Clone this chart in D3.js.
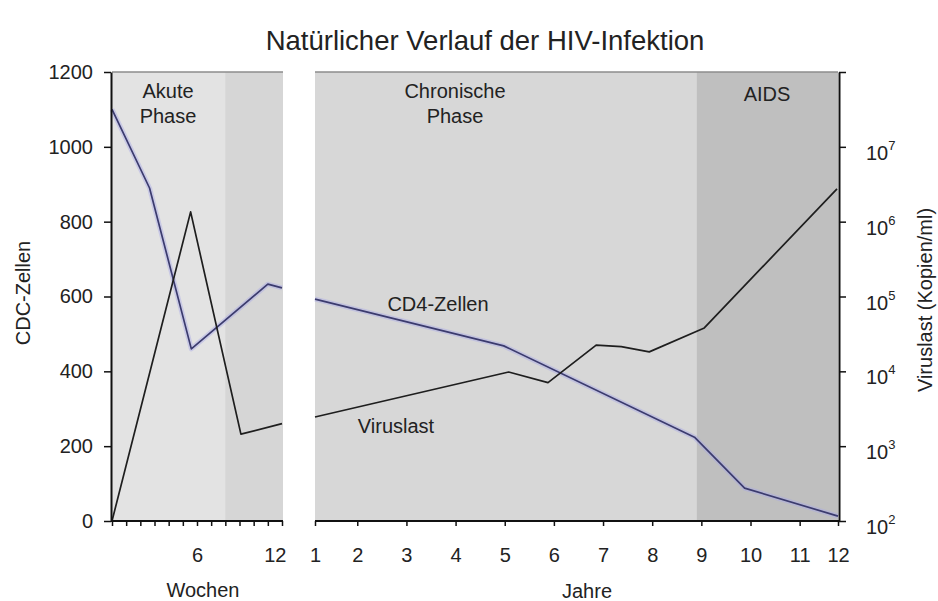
<!DOCTYPE html>
<html><head><meta charset="utf-8">
<script src="https://cdn.jsdelivr.net/npm/d3@7"></script>
<style>
body{margin:0;background:#fff;}
svg text{font-family:"Liberation Sans",Arial,sans-serif;fill:#222;}
</style></head>
<body><svg id="c" width="938" height="601"></svg>
<script>
// ---- data ----
const title = "Natürlicher Verlauf der HIV-Infektion";
const weekTicks = [0,1,2,3,4,5,6,7,8,9,10,11,12];
const weekLabels = [6,12];
const yearTicks = [1,2,3,4,5,6,7,8,9,10,11,12];
const cd4Ticks = [0,200,400,600,800,1000,1200];
const vlTicks = [1e2,1e3,1e4,1e5,1e6,1e7,1e8];
const vlLabelExp = [2,3,4,5,6,7];

// CD4 cells – weeks panel
const cd4WeekX = [0, 2.65, 5.6, 11.0, 12];
const cd4WeekY = [1100, 890, 460, 633, 623];
// viral load (copies/ml) – weeks panel
const vlWeekX = [0, 5.55, 9.1, 12];
const vlWeekY = [100, 1350000, 1450, 2000];
// CD4 cells – years panel
const cd4YearX = [1.14, 4.98, 8.86, 9.88, 11.78];
const cd4YearY = [593, 468, 224, 88, 13];
// viral load – years panel
const vlYearX = [1.14, 5.08, 5.88, 6.86, 7.37, 7.94, 9.06, 11.76];
const vlYearY = [2450, 9800, 7080, 22400, 21400, 18200, 38000, 2750000];

// phases
const phaseWeeks = [{from:0,to:8,fill:"#e3e3e3"},{from:8,to:12,fill:"#d6d6d6"}];
const phaseYears = [{from:1.14,to:8.9,fill:"#d7d7d7"},{from:8.9,to:11.78,fill:"#bfbfbf"}];

// ---- scales ----
const svg = d3.select("#c");
const yL = d3.scaleLinear().domain([0,1200]).range([521,72]);
const yR = d3.scaleLog().domain([1e2,1e8]).range([521,72]);
const xW = d3.scaleLinear().domain([0,12]).range([112,282]);
const xY = d3.scaleLinear().domain([1.14,11.78]).range([315,838]).clamp(true);

// backgrounds
svg.selectAll("rect.pw").data(phaseWeeks).join("rect")
  .attr("x",d=>xW(d.from)).attr("width",d=>xW(d.to)-xW(d.from)+1)
  .attr("y",yL(1200)).attr("height",yL(0)-yL(1200)).attr("fill",d=>d.fill);
svg.selectAll("rect.py").data(phaseYears).join("rect")
  .attr("x",d=>xY(d.from)).attr("width",d=>xY(d.to)-xY(d.from))
  .attr("y",yL(1200)).attr("height",yL(0)-yL(1200)).attr("fill",d=>d.fill);
// top border lines
[[xW(0),xW(12)+1],[xY(1.14),xY(11.78)]].forEach(([a,b])=>{
  svg.append("line").attr("x1",a).attr("x2",b).attr("y1",yL(1200)).attr("y2",yL(1200))
    .attr("stroke","#8c8c8c").attr("stroke-width",1.6);
});

// annotations
const ann = svg.append("g").attr("font-size",20).attr("text-anchor","middle");
ann.append("text").attr("x",168).attr("y",98).text("Akute");
ann.append("text").attr("x",168).attr("y",123).text("Phase");
ann.append("text").attr("x",455).attr("y",98).text("Chronische");
ann.append("text").attr("x",455).attr("y",123).text("Phase");
ann.append("text").attr("x",767).attr("y",101).text("AIDS");
ann.append("text").attr("x",438).attr("y",311).text("CD4-Zellen");
ann.append("text").attr("x",396).attr("y",433).text("Viruslast");

// lines
function drawLine(xs, ys, xs_, ys_, col, halo){
  const pts = xs.map((x,i)=>[xs_(x), ys_(ys[i])]);
  const g = d3.line();
  if(halo) svg.append("path").attr("d",g(pts)).attr("fill","none")
    .attr("stroke","#a9a9e6").attr("stroke-width",5).attr("stroke-opacity",0.45).attr("stroke-linejoin","round");
  svg.append("path").attr("d",g(pts)).attr("fill","none").attr("stroke",col)
    .attr("stroke-width",1.7).attr("stroke-linejoin","round");
}
drawLine(cd4WeekX, cd4WeekY, xW, yL, "#3b3b6e", true);
drawLine(cd4YearX, cd4YearY, xY, yL, "#3b3b6e", true);
drawLine(vlWeekX, vlWeekY, xW, yR, "#1e1e1e", false);
drawLine(vlYearX, vlYearY, xY, yR, "#1e1e1e", false);

// axes
const fontAx = 20;
const gl = svg.append("g").attr("transform","translate(111,0)")
  .call(d3.axisLeft(yL).tickValues(cd4Ticks).tickSize(7).tickSizeOuter(0).tickPadding(11)
    .tickFormat(d3.format("d")));
const gwb = svg.append("g").attr("transform","translate(0,521)")
  .call(d3.axisBottom(xW).tickValues(weekTicks).tickSize(5).tickSizeOuter(0).tickPadding(22)
    .tickFormat(d=>weekLabels.includes(d)?d:""));
gwb.selectAll(".tick text").filter(d=>d===12).attr("text-anchor","end").attr("dx",4);
const gyb = svg.append("g").attr("transform","translate(0,521)")
  .call(d3.axisBottom(xY).tickValues(yearTicks).tickSize(5).tickSizeOuter(0).tickPadding(22));
const gr = svg.append("g").attr("transform","translate(839,0)")
  .call(d3.axisRight(yR).tickValues(vlTicks).tickSize(7).tickSizeOuter(0).tickFormat(""));
[gl,gwb,gyb,gr].forEach(g=>{
  g.selectAll("path.domain").attr("stroke","#111").attr("stroke-width",2);
  g.selectAll(".tick line").attr("stroke","#111").attr("stroke-width",1.5);
  g.selectAll(".tick text").attr("font-size",fontAx).attr("fill","#222")
    .attr("font-family","'Liberation Sans',Arial,sans-serif");
});
// extend bottom domains slightly to meet vertical axes
gwb.select("path.domain").attr("d","M111,0H283");
gyb.select("path.domain").attr("d","M315,0H840");

// right axis labels 10^n
const rl = svg.append("g").attr("font-size",fontAx);
vlLabelExp.forEach(e=>{
  const t = rl.append("text").attr("x",866).attr("y",yR(Math.pow(10,e))+13);
  t.append("tspan").text("10");
  t.append("tspan").attr("font-size",13).attr("dy",-10).text(e);
});

// axis titles
svg.append("text").attr("font-size",20).attr("text-anchor","middle")
  .attr("transform","translate(30,293) rotate(-90)").text("CDC-Zellen");
svg.append("text").attr("font-size",20).attr("text-anchor","middle")
  .attr("transform","translate(932,300) rotate(-90)").text("Viruslast (Kopien/ml)");
svg.append("text").attr("font-size",20).attr("text-anchor","middle")
  .attr("x",203).attr("y",597).text("Wochen");
svg.append("text").attr("font-size",20).attr("text-anchor","middle")
  .attr("x",587).attr("y",598).text("Jahre");

// title
svg.append("text").attr("font-size",27.5).attr("text-anchor","middle").attr("fill","#3a3a3a")
  .attr("x",485).attr("y",50).text(title);
</script></body></html>
